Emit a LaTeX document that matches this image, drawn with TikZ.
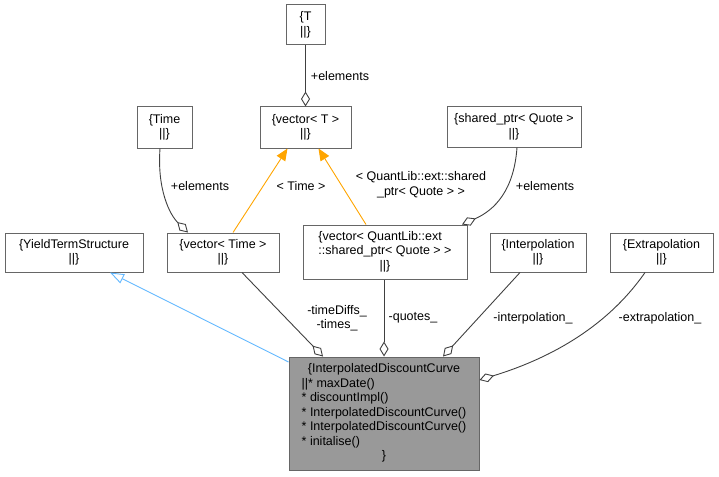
\documentclass[tikz,border=0pt]{standalone}
\usepackage{fontspec}
\setmainfont{Liberation Sans}
\usetikzlibrary{arrows.meta}
\definecolor{boxline}{HTML}{666666}
\definecolor{edgeline}{HTML}{404040}
\definecolor{inhline}{HTML}{63B8FF}
\definecolor{tmplline}{HTML}{FFA500}
\definecolor{mainfill}{HTML}{999999}
\begin{document}
\begin{tikzpicture}[x=1pt,y=-1pt,
  every node/.style={font=\fontsize{12.5}{14.5}\selectfont, inner sep=0pt},
  box/.style={draw=boxline, line width=1pt, fill=white, rectangle, align=center},
  mainbox/.style={box, fill=mainfill},
  edge/.style={draw=edgeline, line width=0.9pt, -{Diamond[fill=white, length=15pt, width=9pt, line width=0.9pt]}},
  inh/.style={draw=inhline, line width=0.9pt, -{Triangle[fill=white, length=14pt, width=10pt, line width=0.9pt]}},
  tmpl/.style={draw=tmplline, line width=0.9pt, -{Triangle[fill=tmplline, length=12pt, width=10pt]}},
  lbl/.style={align=center}
]
\useasboundingbox (0,0) rectangle (719,476);

\node[box, minimum width=39pt, minimum height=40pt] (T) at (305.5,25) {\{T\\||\}};
\node[box, minimum width=91pt, minimum height=41pt] (vecT) at (305.5,127.5) {\{vector< T >\\||\}};
\node[box, minimum width=55pt, minimum height=41pt] (Time) at (164.5,127.5) {\{Time\\||\}};
\node[box, minimum width=134pt, minimum height=40pt] (sp) at (514,127) {\{shared\_ptr< Quote >\\||\}};
\node[box, minimum width=138pt, minimum height=39pt] (yts) at (74,252.5) {\{YieldTermStructure\\||\}};
\node[box, minimum width=112pt, minimum height=39pt] (vTime) at (223,252.5) {\{vector< Time >\\||\}};
\node[box, minimum width=164pt, minimum height=54pt] (vQ) at (385,252) {%
  \begin{tabular}{@{}l@{}}\{vector< QuantLib::ext\\::shared\_ptr< Quote > >\\\multicolumn{1}{@{}c@{}}{||\}}\end{tabular}};
\node[box, minimum width=103pt, minimum height=39pt] (extrap) at (661.5,252.5) {\{Extrapolation\\||\}};
\node[box, minimum width=96pt, minimum height=39pt] (interp) at (538,252.5) {\{Interpolation\\||\}};
\node[mainbox, minimum width=190pt, minimum height=113pt] (main) at (384,413.5) {%
  \begin{tabular}{@{}l@{}}\multicolumn{1}{@{}c@{}}{\{InterpolatedDiscountCurve}\\\relax
  ||* maxDate()\\\relax
  {}* discountImpl()\\\relax
  {}* InterpolatedDiscountCurve()\\\relax
  {}* InterpolatedDiscountCurve()\\\relax
  {}* initalise()\\
  \multicolumn{1}{@{}c@{}}{\}}\end{tabular}};

% T -> vector<T>
\draw[edge] (T.south) -- (vecT.north);
\node[lbl] (l1) at (340,76) {+elements};

% Time -> vector<Time>
\draw[edge] ([xshift=-4.5pt]Time.south) .. controls (157,190) and (170,215) .. ([xshift=-35pt]vTime.north);
\node[lbl] (l2) at (200,186) {+elements};

% template edges
\draw[tmpl] ([xshift=10pt]vTime.north) -- ([xshift=-18pt]vecT.south);
\node[lbl] (l3) at (301,186) {< Time >};
\draw[tmpl] ([xshift=-19pt]vQ.north) -- ([xshift=13pt]vecT.south);
\node[lbl] (l4) at (421,185) {< QuantLib::ext::shared\\\_ptr< Quote > >};

% shared_ptr -> vector<QuantLib...>
\draw[edge] ([xshift=3pt]sp.south) .. controls (514,190) and (495,210) .. ([xshift=77pt]vQ.north);
\node[lbl] (l5) at (545,186) {+elements};

% inheritance
\draw[inh] ([yshift=51.5pt]main.west) -- ([xshift=36pt]yts.south);

% members
\draw[edge] ([xshift=19pt]vTime.south) -- ([xshift=-61pt]main.north);
\node[lbl] (l6) at (337,318) {-timeDiffs\_\\-times\_};
\draw[edge] (vQ.south -| main.north) -- (main.north);
\node[lbl] (l7) at (413,318) {-quotes\_};
\draw[edge] ([xshift=-18pt]interp.south) -- ([xshift=59pt]main.north);
\node[lbl] (l8) at (533,318) {-interpolation\_};
\draw[edge] ([xshift=-16.5pt]extrap.south) .. controls (605,330) and (545,360) .. ([yshift=33.5pt]main.east);
\node[lbl] (l9) at (660,318) {-extrapolation\_};
\end{tikzpicture}
\end{document}
